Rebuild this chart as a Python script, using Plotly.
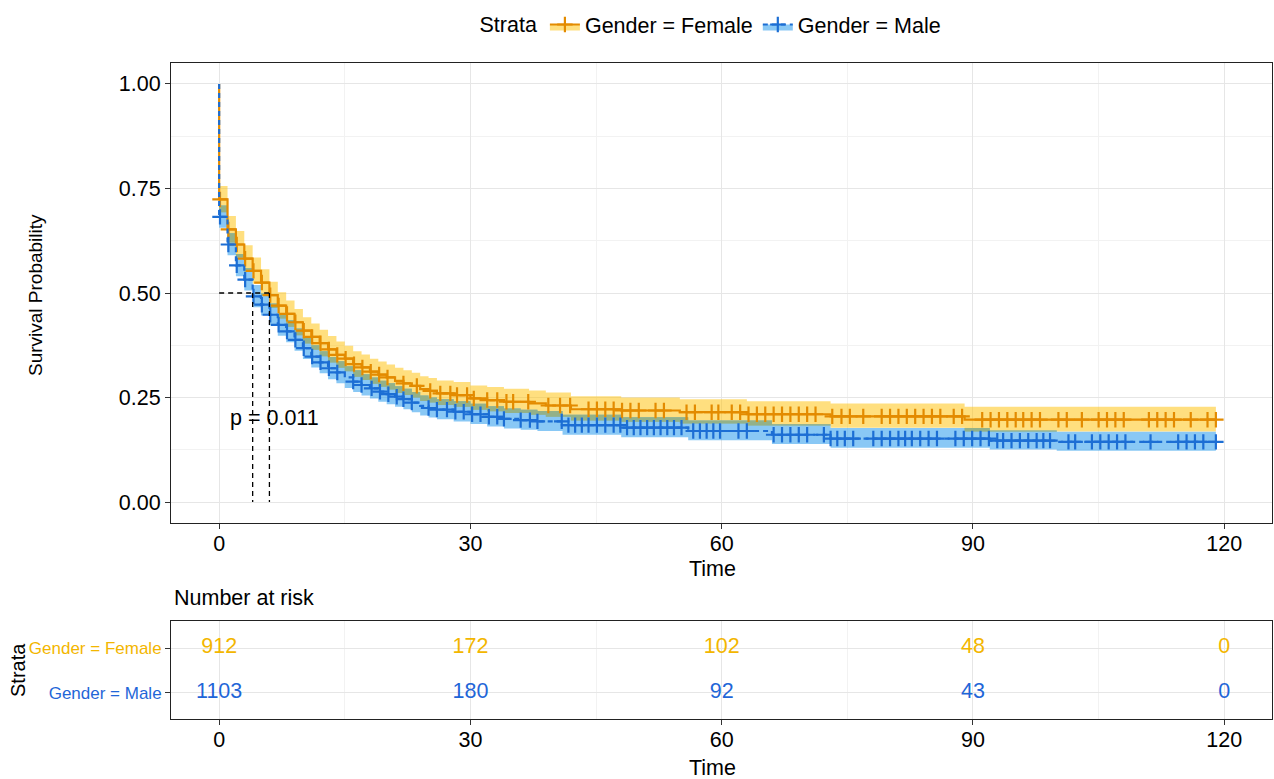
import numpy as np
import plotly.graph_objects as go

# ---- Kaplan-Meier estimates by gender (event times, survival, 95% CI) ----
female_times = [0, 1, 2, 3, 4, 5, 6, 7, 8, 9, 10, 11, 12, 13, 14, 15, 16, 17, 18, 19,
                20, 21, 22, 23, 24, 25, 26, 28, 30, 32, 34, 37, 39, 42, 48, 55, 63, 73, 89]
female_surv = [0.724, 0.652, 0.616, 0.582, 0.553, 0.525, 0.495, 0.470, 0.450, 0.430,
               0.410, 0.395, 0.380, 0.365, 0.352, 0.343, 0.330, 0.322, 0.312, 0.305,
               0.298, 0.290, 0.284, 0.278, 0.270, 0.266, 0.260, 0.256, 0.248, 0.244,
               0.240, 0.236, 0.231, 0.222, 0.219, 0.215, 0.210, 0.205, 0.197]
female_upper = [0.756, 0.684, 0.648, 0.614, 0.585, 0.557, 0.527, 0.502, 0.482, 0.462,
                0.442, 0.427, 0.412, 0.397, 0.384, 0.374, 0.361, 0.353, 0.343, 0.336,
                0.329, 0.321, 0.315, 0.309, 0.301, 0.297, 0.291, 0.287, 0.279, 0.275,
                0.271, 0.267, 0.262, 0.253, 0.250, 0.246, 0.241, 0.236, 0.228]
female_lower = [0.693, 0.621, 0.585, 0.551, 0.522, 0.494, 0.464, 0.439, 0.419, 0.399,
                0.379, 0.364, 0.349, 0.334, 0.321, 0.313, 0.300, 0.292, 0.283, 0.276,
                0.269, 0.261, 0.256, 0.250, 0.242, 0.238, 0.232, 0.228, 0.221, 0.217,
                0.213, 0.209, 0.204, 0.195, 0.192, 0.188, 0.183, 0.178, 0.169]
female_censor = [0.1, 1.1, 2.1, 3.1, 4.1, 5.1, 6.1, 7.1, 8.1, 9.1, 10.1, 11.1, 12.1, 13.1,
                 14.1, 15.1, 16.1, 17.1, 18.1, 19.1, 20.1, 22, 23.6, 25.2, 26.4, 27.6, 28.4,
                 29.6, 30.4, 32, 33.2, 34.3, 35.1, 36.9, 39.3, 40.7, 41.9, 44.1, 45.1, 46.1,
                 47.1, 48.1, 49.1, 50.1, 52.1, 53.1, 55.8, 56.8, 58.8, 59.6, 61.2, 62.2,
                 63.2, 64.2, 65.2, 66.2, 67.2, 68.2, 69.2, 70.2, 71.2, 73.2, 74.3, 75.3,
                 76.9, 79.1, 80.1, 81.1, 82.1, 83.1, 84.1, 85.1, 86.1, 87.7, 88.7, 91.1,
                 92.1, 93.1, 94.1, 95.1, 96, 97, 98, 100.2, 101.2, 103, 105, 106, 107, 108,
                 111, 112, 113, 114, 116, 118, 119]

male_times = [0, 1, 2, 3, 4, 5, 6, 7, 8, 9, 10, 11, 12, 13, 14, 15, 16, 17, 18, 19, 20,
              21, 22, 23, 24, 25, 26, 28, 30, 32, 34, 36, 38, 41, 48, 56, 66, 73, 92, 100]
male_surv = [0.682, 0.616, 0.566, 0.532, 0.492, 0.472, 0.448, 0.424, 0.408, 0.388,
             0.368, 0.348, 0.334, 0.320, 0.310, 0.298, 0.288, 0.280, 0.272, 0.264,
             0.258, 0.252, 0.246, 0.238, 0.230, 0.225, 0.221, 0.216, 0.210, 0.204,
             0.199, 0.196, 0.193, 0.184, 0.178, 0.170, 0.161, 0.152, 0.147, 0.144]
male_upper = [0.709, 0.643, 0.593, 0.559, 0.519, 0.499, 0.475, 0.451, 0.435, 0.415,
              0.395, 0.375, 0.361, 0.347, 0.337, 0.325, 0.315, 0.306, 0.298, 0.290,
              0.284, 0.277, 0.271, 0.263, 0.255, 0.250, 0.246, 0.241, 0.235, 0.229,
              0.224, 0.221, 0.218, 0.209, 0.203, 0.195, 0.186, 0.177, 0.171, 0.168]
male_lower = [0.656, 0.590, 0.540, 0.506, 0.466, 0.446, 0.422, 0.398, 0.382, 0.362,
              0.342, 0.322, 0.308, 0.294, 0.284, 0.273, 0.263, 0.255, 0.248, 0.240,
              0.234, 0.228, 0.222, 0.215, 0.207, 0.202, 0.198, 0.193, 0.187, 0.181,
              0.176, 0.173, 0.170, 0.161, 0.155, 0.148, 0.139, 0.130, 0.126, 0.123]
male_censor = [0.1, 1.1, 2.1, 3.1, 4.1, 5.1, 6.1, 7.1, 8.1, 9.1, 10.1, 11.1, 12.1, 13.1,
               14.1, 16, 17, 18.2, 19.2, 20.2, 21.2, 22, 23, 25, 26, 27.2, 28.2, 29.2,
               30.2, 31.2, 32.2, 33.2, 34, 36, 37.1, 38, 40.9, 41.7, 42.5, 43.3, 44.1,
               45.1, 46.1, 47.1, 47.9, 48.7, 49.5, 50.3, 51.1, 51.9, 52.7, 53.5, 54.3,
               55.2, 56.6, 57.4, 58.2, 59, 59.8, 62, 63, 66.2, 67.2, 68.2, 69.2, 70.2,
               72.2, 73, 73.8, 74.7, 75.7, 78.1, 79.1, 80.1, 81.1, 81.9, 82.7, 83.7,
               84.7, 85.7, 87.9, 88.9, 89.9, 90.9, 91.9, 92.9, 93.6, 94.6, 95.6, 96.6,
               97.6, 98.4, 99.2, 101.4, 102.2, 104.2, 105.2, 106.2, 107.2, 108.2, 111.2,
               114.5, 115.5, 116.5, 117.5, 119]

follow_up_end = 119
p_value_label = "p = 0.011"

# ---- Number-at-risk table ----
risk_times = [0, 30, 60, 90, 120]
female_at_risk = [912, 172, 102, 48, 0]
male_at_risk = [1103, 180, 92, 43, 0]
strata_labels = ["Gender = Female", "Gender = Male"]

FEMALE_LINE = "#E38B00"
FEMALE_TEXT = "#F3B600"
FEMALE_FILL = "rgba(255,191,0,0.5)"
MALE_LINE = "#1C6ED4"
MALE_TEXT = "#1F66D8"
MALE_FILL = "rgba(20,145,235,0.5)"
OVERLAP_FILL = "#93B189"
FONT = "Liberation Sans, Arial, sans-serif"
FS = 21.5

W, H = 1274, 779
X_RANGE = [-5.75, 125.7]


def px_x(p):
    return p / W


def px_y(p):
    return 1 - p / H


def step_value(times, vals, t, before=1.0):
    i = np.searchsorted(np.asarray(times), t, side="right") - 1
    return before if i < 0 else vals[i]


def median_time(times, surv):
    for t, s in zip(times, surv):
        if s <= 0.5:
            return t
    return None


fig = go.Figure()

groups = [
    ("Gender = Female", female_times, female_surv, female_lower, female_upper,
     female_censor, FEMALE_LINE, FEMALE_FILL, "solid"),
    ("Gender = Male", male_times, male_surv, male_lower, male_upper,
     male_censor, MALE_LINE, MALE_FILL, "5px,4px"),
]

# confidence bands
for name, t, s, lo, up, cen, lc, fc, dash in groups:
    bx = list(t) + [follow_up_end]
    fig.add_trace(go.Scatter(x=bx, y=list(lo) + [lo[-1]], mode="lines",
                             line=dict(width=0, shape="hv"), hoverinfo="skip",
                             showlegend=False))
    fig.add_trace(go.Scatter(x=bx, y=list(up) + [up[-1]], mode="lines",
                             line=dict(width=0, shape="hv"), fill="tonexty",
                             fillcolor=fc, hoverinfo="skip", showlegend=False))

# region where the two confidence bands overlap
grid = sorted(set(female_times) | set(male_times) | {follow_up_end})
ov_lo, ov_hi = [], []
for g in grid:
    lo_ = max(step_value(female_times, female_lower, g), step_value(male_times, male_lower, g))
    hi_ = min(step_value(female_times, female_upper, g), step_value(male_times, male_upper, g))
    ov_lo.append(lo_)
    ov_hi.append(max(hi_, lo_))
fig.add_trace(go.Scatter(x=grid, y=ov_lo, mode="lines", line=dict(width=0, shape="hv"),
                         hoverinfo="skip", showlegend=False))
fig.add_trace(go.Scatter(x=grid, y=ov_hi, mode="lines", line=dict(width=0, shape="hv"),
                         fill="tonexty", fillcolor=OVERLAP_FILL, hoverinfo="skip",
                         showlegend=False))

# survival curves and censoring marks
for name, t, s, lo, up, cen, lc, fc, dash in groups:
    cx = [0] + list(t) + [follow_up_end]
    cy = [1.0] + list(s) + [s[-1]]
    fig.add_trace(go.Scatter(x=cx, y=cy, mode="lines",
                             line=dict(color=lc, width=2.2, shape="hv", dash=dash),
                             showlegend=False))
    fig.add_trace(go.Scatter(x=cen, y=[step_value(t, s, c) for c in cen],
                             mode="markers",
                             marker=dict(symbol="cross-thin", size=11,
                                         line=dict(color=lc, width=2.2)),
                             showlegend=False))

# legend entries
for name, t, s, lo, up, cen, lc, fc, dash in groups:
    fig.add_trace(go.Scatter(x=[None], y=[None], mode="lines+markers", name=name,
                             fill="toself", fillcolor=fc,
                             line=dict(color=lc, width=2.2, dash=dash),
                             marker=dict(symbol="cross-thin", size=11,
                                         line=dict(color=lc, width=2.2))))

# median survival reference lines
med_f = median_time(female_times, female_surv)
med_m = median_time(male_times, male_surv)
dash_line = dict(color="black", width=1.3, dash="5px,4px")
fig.add_shape(type="line", xref="x", yref="y", x0=0, x1=max(med_f, med_m),
              y0=0.5, y1=0.5, line=dash_line)
for m in (med_f, med_m):
    fig.add_shape(type="line", xref="x", yref="y", x0=m, x1=m, y0=0.5, y1=0,
                  line=dash_line)

fig.add_annotation(x=1.1, y=0.2, xref="x", yref="y", text=p_value_label,
                   showarrow=False, xanchor="left", yanchor="middle",
                   font=dict(size=FS, color="black", family=FONT))

# risk table numbers
fig.add_trace(go.Scatter(x=risk_times, y=[2] * len(risk_times), xaxis="x2", yaxis="y2",
                         mode="text", text=[str(v) for v in female_at_risk],
                         textfont=dict(size=FS, color=FEMALE_TEXT, family=FONT),
                         showlegend=False))
fig.add_trace(go.Scatter(x=risk_times, y=[1] * len(risk_times), xaxis="x2", yaxis="y2",
                         mode="text", text=[str(v) for v in male_at_risk],
                         textfont=dict(size=FS, color=MALE_TEXT, family=FONT),
                         showlegend=False))

GRID = "#E6E6E6"
MINOR = "#F2F2F2"
axis_common = dict(showline=True, linecolor="#222222", linewidth=1, mirror=True,
                   ticks="outside", ticklen=5, tickcolor="#333333", tickwidth=1,
                   zeroline=False, tickfont=dict(size=FS, color="black", family=FONT),
                   gridcolor=GRID, gridwidth=1.1)

main_dom_x = [px_x(171), px_x(1272)]
x_minor = dict(tickmode="linear", tick0=15, dtick=30, showgrid=True,
               gridcolor=MINOR, gridwidth=0.8, ticklen=0)

fig.update_layout(
    width=W, height=H,
    margin=dict(l=0, r=0, t=0, b=0),
    paper_bgcolor="white", plot_bgcolor="white",
    font=dict(family=FONT, color="black"),
    xaxis=dict(domain=main_dom_x, anchor="y", range=X_RANGE, tickmode="array",
               tickvals=risk_times, ticktext=[str(v) for v in risk_times],
               minor=x_minor, ticklabelstandoff=-4, **axis_common),
    yaxis=dict(domain=[px_y(523), px_y(63)], anchor="x", range=[-0.05, 1.05],
               tickmode="array", tickvals=[0, 0.25, 0.5, 0.75, 1.0],
               ticktext=["0.00", "0.25", "0.50", "0.75", "1.00"],
               minor=dict(tickmode="linear", tick0=0.125, dtick=0.25, showgrid=True,
                          gridcolor=MINOR, gridwidth=0.8, ticklen=0),
               **axis_common),
    xaxis2=dict(domain=main_dom_x, anchor="y2", range=X_RANGE, tickmode="array",
                tickvals=risk_times, ticktext=[str(v) for v in risk_times],
                minor=x_minor, ticklabelstandoff=-4, **axis_common),
    yaxis2=dict(domain=[px_y(719), px_y(621)], anchor="x2", range=[0.422, 2.6],
                tickmode="array", tickvals=[2, 1],
                ticktext=[f'<span style="color:{FEMALE_TEXT}">{strata_labels[0]}</span>',
                          f'<span style="color:{MALE_TEXT}">{strata_labels[1]}</span>'],
                **{**axis_common, "tickfont": dict(size=17, family=FONT)}),
    legend=dict(orientation="h", x=px_x(712), xanchor="center", y=px_y(4),
                yanchor="top", traceorder="normal",
                title=dict(text="Strata", side="left", font=dict(size=FS, family=FONT)),
                font=dict(size=FS, family=FONT), bgcolor="rgba(0,0,0,0)",
                itemwidth=30, tracegroupgap=0),
)

# axis titles and table heading
titles = [
    dict(text="Time", x=px_x(712), y=px_y(569), textangle=0, size=FS),
    dict(text="Time", x=px_x(712), y=px_y(768), textangle=0, size=FS),
    dict(text="Survival Probability", x=px_x(35), y=px_y(295), textangle=-90, size=19),
    dict(text="Strata", x=px_x(18), y=px_y(670), textangle=-90, size=20),
]
for t in titles:
    fig.add_annotation(x=t["x"], y=t["y"], xref="paper", yref="paper", text=t["text"],
                       textangle=t["textangle"], showarrow=False, xanchor="center",
                       yanchor="middle", font=dict(size=t["size"], color="black", family=FONT))
fig.add_annotation(x=px_x(172), y=px_y(598), xref="paper", yref="paper",
                   text="Number at risk", showarrow=False, xanchor="left",
                   yanchor="middle", font=dict(size=FS, color="black", family=FONT))

fig.write_html("out.html")
